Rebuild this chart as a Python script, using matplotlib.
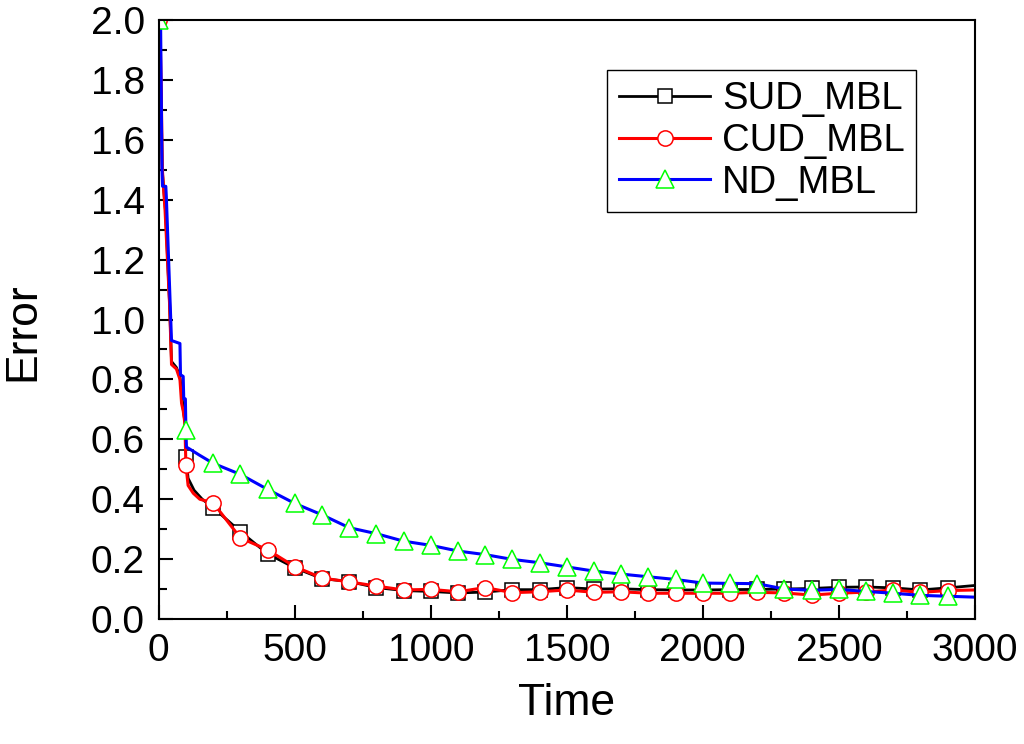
import numpy as np
import matplotlib
matplotlib.use("Agg")
import matplotlib.pyplot as plt

plt.rcParams['font.family'] = ['Liberation Sans', 'DejaVu Sans']

# --- data ------------------------------------------------------------------
late_t = [200, 300, 400, 500, 600, 700, 800, 900, 1000, 1100, 1200, 1300, 1400,
          1500, 1600, 1700, 1800, 1900, 2000, 2100, 2200, 2300, 2400, 2500,
          2600, 2700, 2800, 2900, 3000]

sud_t = [0, 5, 9, 13, 18, 25, 40, 47, 65, 78, 85, 90, 96, 100, 108, 130, 160] + late_t
sud_v = [2.0, 1.85, 1.72, 1.50, 1.44, 1.36, 1.05, 0.86, 0.84, 0.81, 0.75, 0.70, 0.66,
         0.54, 0.47, 0.43, 0.40,
         0.372, 0.292, 0.218, 0.171, 0.135, 0.125, 0.105, 0.095, 0.092, 0.087, 0.090,
         0.098, 0.098, 0.105, 0.100, 0.101, 0.098, 0.097, 0.097, 0.098, 0.099, 0.100,
         0.102, 0.106, 0.107, 0.104, 0.097, 0.104, 0.112]

cud_t = [0, 5, 9, 13, 16, 23, 40, 47, 65, 78, 84, 90, 96, 100, 108, 127, 151] + late_t
cud_v = [2.0, 1.95, 1.79, 1.51, 1.46, 1.37, 1.05, 0.85, 0.835, 0.80, 0.72, 0.695, 0.655,
         0.513, 0.446, 0.42, 0.40,
         0.388, 0.271, 0.231, 0.175, 0.137, 0.124, 0.110, 0.097, 0.099, 0.091, 0.105,
         0.088, 0.091, 0.097, 0.089, 0.091, 0.086, 0.086, 0.086, 0.086, 0.089, 0.087,
         0.080, 0.086, 0.090, 0.097, 0.089, 0.095, 0.097]

nd_t = [0, 7, 12, 14, 26, 28, 47, 78, 80, 90, 92, 98, 100, 102, 115, 150] + late_t
nd_v = [2.0, 1.98, 1.50, 1.445, 1.445, 1.41, 0.93, 0.92, 0.816, 0.81, 0.735, 0.735,
        0.63, 0.574, 0.567, 0.547,
        0.52, 0.483, 0.433, 0.386, 0.348, 0.305, 0.285, 0.26, 0.246, 0.227, 0.215,
        0.199, 0.188, 0.174, 0.16, 0.15, 0.141, 0.132, 0.12, 0.119, 0.118, 0.10,
        0.096, 0.099, 0.092, 0.086, 0.079, 0.076, 0.073]

labels = ["SUD_MBL", "CUD_MBL", "ND_MBL"]

# --- plot ------------------------------------------------------------------
fig = plt.figure(figsize=(10.24, 7.44), dpi=100)
ax = fig.add_axes([0.155, 0.168, 0.797, 0.805])

def marks(t):
    # markers sit on every 100 time units, except the last point
    return [i for i, x in enumerate(t) if x % 100 == 0 and x < 3000]

ax.plot(sud_t, sud_v, color="black", lw=2.0, marker="s", ms=10, mfc="white",
        mec="black", mew=1.1, markevery=marks(sud_t), label=labels[0])
ax.plot(cud_t, cud_v, color="red", lw=2.2, marker="o", ms=11, mfc="white",
        mec="red", mew=1.1, markevery=marks(cud_t), label=labels[1])
ax.plot(nd_t, nd_v, color="blue", lw=2.2, marker="^", ms=12.5, mfc="white",
        mec="#00FF00", mew=1.1, markevery=marks(nd_t), label=labels[2])

ax.set_xlim(0, 3000)
ax.set_ylim(0, 2.0)
ax.set_xticks(np.arange(0, 3001, 500))
ax.set_xticks(np.arange(250, 3000, 500), minor=True)
ax.set_yticks(np.arange(0, 2.01, 0.2))
ax.set_yticks(np.arange(0.1, 2.0, 0.2), minor=True)
ax.yaxis.set_major_formatter(matplotlib.ticker.FormatStrFormatter("%.1f"))

ax.tick_params(which="both", direction="in", top=False, right=False,
               width=1.5, labelsize=28)
ax.tick_params(which="major", length=10)
ax.tick_params(which="minor", length=6)
ax.tick_params(axis="x", pad=10)
ax.tick_params(axis="y", pad=10)
for s in ax.spines.values():
    s.set_linewidth(1.5)

ax.set_xlabel("Time", fontsize=32, labelpad=10)
ax.set_ylabel("Error", fontsize=32, labelpad=34, y=0.48)

leg = ax.legend(loc="upper right", bbox_to_anchor=(0.928, 0.917), borderaxespad=0,
                fontsize=27.5, fancybox=False, edgecolor="black", framealpha=1,
                handlelength=2.4, labelspacing=0.15, borderpad=0.3, handletextpad=0.3)
leg.get_frame().set_linewidth(1.0)

plt.savefig("out.png", dpi=100)
